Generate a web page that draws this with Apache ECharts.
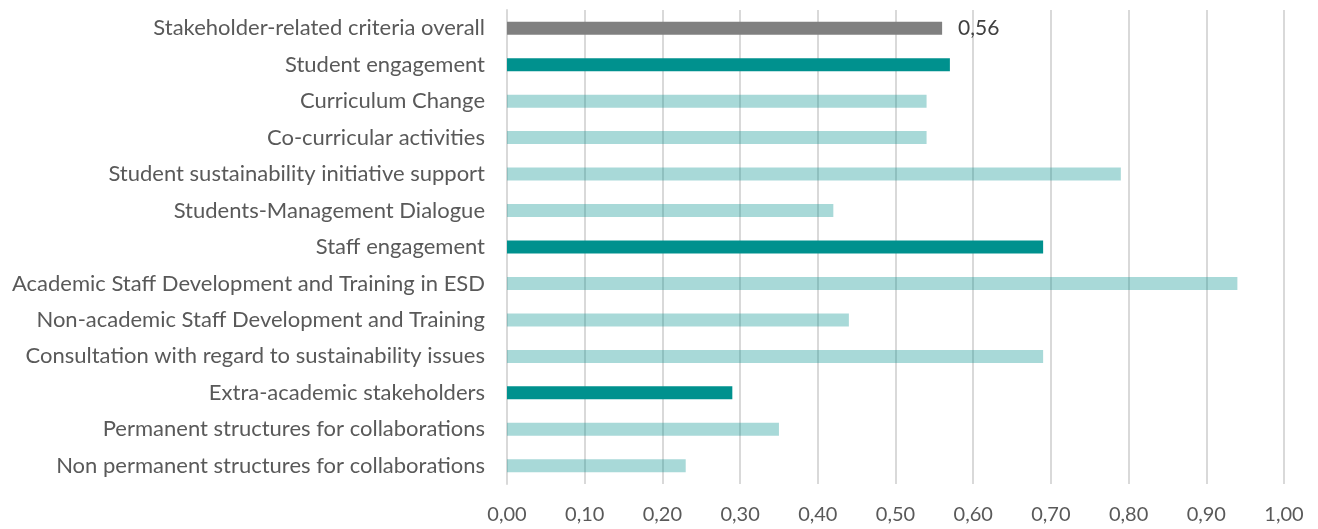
<!DOCTYPE html>
<html>
<head>
<meta charset="utf-8">
<script src="https://cdn.jsdelivr.net/npm/echarts@6/dist/echarts.min.js"></script>
<style>
  html, body { margin: 0; padding: 0; background: #ffffff; }
  #chart { width: 1318px; height: 529px; }
</style>
</head>
<body>
<div id="chart"></div>
<script>
const categories = [
  "Stakeholder-related criteria overall",
  "Student engagement",
  "Curriculum Change",
  "Co-curricular activities",
  "Student sustainability initiative support",
  "Students-Management Dialogue",
  "Staff engagement",
  "Academic Staff Development and Training in ESD",
  "Non-academic Staff Development and Training",
  "Consultation with regard to sustainability issues",
  "Extra-academic stakeholders",
  "Permanent structures for collaborations",
  "Non permanent structures for collaborations"
];
const values = [0.56, 0.57, 0.54, 0.54, 0.79, 0.42, 0.69, 0.94, 0.44, 0.69, 0.29, 0.35, 0.23];
// 0 = overall, 1 = group, 2 = sub-criterion
const levels = [0, 1, 2, 2, 2, 2, 1, 2, 2, 2, 1, 2, 2];
const xTicks = [0, 0.1, 0.2, 0.3, 0.4, 0.5, 0.6, 0.7, 0.8, 0.9, 1.0];

const colors = ["#808080", "#00918e", "rgba(0,145,142,0.34)"];
const fmt = v => v.toFixed(2).replace(".", ",");

const chart = echarts.init(document.getElementById("chart"));
chart.setOption({
  backgroundColor: "#ffffff",
  animation: false,
  grid: { left: 507, right: 34, top: 10, bottom: 45 },
  xAxis: {
    type: "value",
    min: xTicks[0],
    max: xTicks[xTicks.length - 1],
    interval: 0.1,
    axisLine: { show: false },
    axisTick: { show: false },
    axisLabel: {
      formatter: fmt,
      color: "#595959",
      fontFamily: "Lato",
      fontSize: 20,
      margin: 21
    },
    splitLine: { show: true, lineStyle: { color: "#d9d9d9", width: 2 } }
  },
  yAxis: {
    type: "category",
    inverse: true,
    data: categories,
    axisLine: { show: true, lineStyle: { color: "#d9d9d9", width: 2 } },
    axisTick: { show: false },
    axisLabel: {
      color: "#595959",
      fontFamily: "Lato",
      fontSize: 22,
      margin: 22
    }
  },
  series: [{
    type: "bar",
    barWidth: 13,
    z: 1,
    data: values.map((v, i) => ({
      value: v,
      itemStyle: { color: colors[levels[i]] },
      label: {
        show: i === 0,
        position: "right",
        distance: 16,
        formatter: p => fmt(p.value),
        color: "#404040",
        fontFamily: "Lato",
        fontSize: 21
      }
    }))
  }]
});
</script>
</body>
</html>
